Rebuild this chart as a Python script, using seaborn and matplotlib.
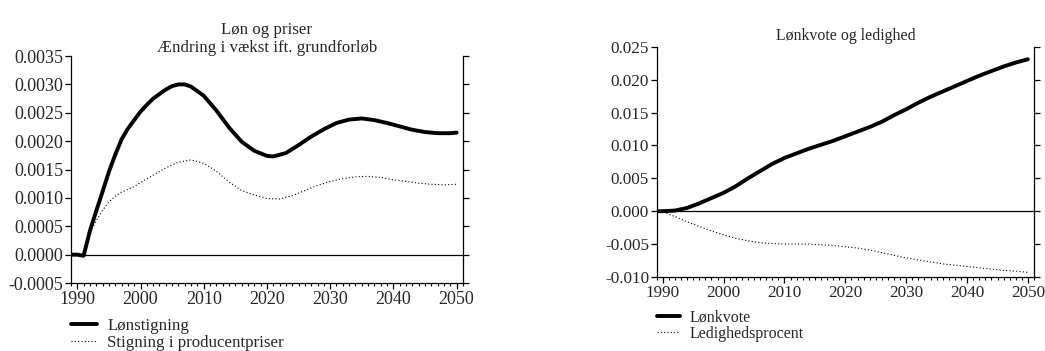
import matplotlib
matplotlib.use("Agg")
import matplotlib.pyplot as plt
import seaborn as sns
from matplotlib.ticker import MultipleLocator

# venstre panel: Løn og priser
loen_aar = [1989, 1990, 1991, 1992, 1993, 1994, 1995, 1996, 1997, 1998, 1999, 2000,
            2001, 2002, 2003, 2004, 2005, 2006, 2007, 2008, 2010, 2012, 2014, 2016,
            2018, 2020, 2021, 2023, 2025, 2027, 2029, 2031, 2033, 2035, 2037, 2039,
            2041, 2043, 2045, 2047, 2049, 2050]
loenstigning = [0.0, 0.0, -0.00002, 0.00042, 0.00077, 0.00111, 0.00146, 0.00176,
                0.00203, 0.00222, 0.00237, 0.00252, 0.00264, 0.00275, 0.00283,
                0.00291, 0.00297, 0.00300, 0.00300, 0.00296, 0.00280, 0.00254,
                0.00224, 0.00199, 0.00183, 0.00174, 0.00173, 0.00179, 0.00193,
                0.00208, 0.00221, 0.00232, 0.00238, 0.00240, 0.00237, 0.00232,
                0.00226, 0.00220, 0.00216, 0.00214, 0.00214, 0.00215]

pris_aar = [1989, 1990, 1991, 1992, 1993, 1994, 1995, 1996, 1997, 1998, 1999, 2000,
            2002, 2004, 2006, 2008, 2010, 2012, 2014, 2016, 2018, 2020, 2022, 2024,
            2026, 2028, 2030, 2032, 2034, 2036, 2038, 2040, 2042, 2044, 2046, 2048,
            2050]
producentpriser = [0.0, 0.0, 0.0, 0.00038, 0.00060, 0.00078, 0.00093, 0.00103,
                   0.00110, 0.00115, 0.00120, 0.00127, 0.00140, 0.00153, 0.00163,
                   0.00167, 0.00161, 0.00147, 0.00128, 0.00113, 0.00105, 0.00099,
                   0.00098, 0.00104, 0.00113, 0.00122, 0.00129, 0.00134, 0.00137,
                   0.00138, 0.00136, 0.00132, 0.00129, 0.00126, 0.00124, 0.00123,
                   0.00124]

# højre panel: Lønkvote og ledighed
kvote_aar = [1989, 1990, 1992, 1994, 1996, 1998, 2000, 2002, 2004, 2006, 2008, 2010,
             2012, 2014, 2016, 2018, 2020, 2022, 2024, 2026, 2028, 2030, 2032, 2034,
             2036, 2038, 2040, 2042, 2044, 2046, 2048, 2050]
loenkvote = [0.0, 0.0, 0.0001, 0.0005, 0.0012, 0.0020, 0.0028, 0.0038, 0.0050,
             0.0061, 0.0072, 0.0081, 0.0088, 0.0095, 0.0101, 0.0107, 0.0114, 0.0121,
             0.0128, 0.0136, 0.0146, 0.0155, 0.0165, 0.0174, 0.0182, 0.0190, 0.0198,
             0.0206, 0.0213, 0.0220, 0.0226, 0.0231]
ledighed = [0.0, -0.0001, -0.0008, -0.0016, -0.0023, -0.0030, -0.0036, -0.0041,
            -0.0045, -0.0048, -0.0049, -0.0050, -0.0050, -0.0050, -0.0051, -0.0052,
            -0.0054, -0.0056, -0.0059, -0.0063, -0.0067, -0.0071, -0.0074, -0.0077,
            -0.0080, -0.0082, -0.0084, -0.0086, -0.0088, -0.0090, -0.0091, -0.0093]

venstre_yticks = [-0.0005, 0.0, 0.0005, 0.0010, 0.0015, 0.0020, 0.0025, 0.0030, 0.0035]
hoejre_yticks = [-0.010, -0.005, 0.0, 0.005, 0.010, 0.015, 0.020, 0.025]

sns.set_style("ticks")
plt.rcParams["font.family"] = ["Liberation Serif", "DejaVu Serif"]
plt.rcParams["axes.linewidth"] = 0.9

fig = plt.figure(figsize=(10.45, 3.51), dpi=100)
ax1 = fig.add_axes([0.0679, 0.1937, 0.3751, 0.6467])
ax2 = fig.add_axes([0.6284, 0.2108, 0.3611, 0.6560])


def style_axes(ax, yticks, fmt, size):
    ax.axhline(0, color="black", lw=0.9, zorder=1)
    ax.set_xlim(1989, 2051)
    ax.set_ylim(yticks[0], yticks[-1])
    ax.set_yticks(yticks)
    ax.set_yticklabels([fmt.format(v) for v in yticks])
    ax.set_xticks(range(1990, 2051, 10))
    ax.xaxis.set_minor_locator(MultipleLocator(1))
    ax.spines["top"].set_visible(False)
    for s in ["left", "right", "bottom"]:
        ax.spines[s].set_color("black")
    ax.tick_params(axis="both", which="major", direction="out", length=4,
                   width=0.9, color="black", labelsize=size, pad=1.5)
    ax.tick_params(axis="x", which="minor", direction="out", length=2.5,
                   width=0.8, color="black")
    ax.tick_params(axis="y", right=True, labelright=False)
    ax.set_xlabel(None)
    ax.set_ylabel(None)


sns.lineplot(x=loen_aar, y=loenstigning, ax=ax1, color="black", lw=2.8,
             label="Lønstigning")
sns.lineplot(x=pris_aar, y=producentpriser, ax=ax1, color="black", lw=0.8,
             linestyle=(0, (1, 2)), label="Stigning i producentpriser")
style_axes(ax1, venstre_yticks, "{:.4f}", 13)
ax1.set_title("Løn og priser\nÆndring i vækst ift. grundforløb", fontsize=12.2,
              linespacing=1.2, pad=2)

sns.lineplot(x=kvote_aar, y=loenkvote, ax=ax2, color="black", lw=2.8,
             label="Lønkvote")
sns.lineplot(x=kvote_aar, y=ledighed, ax=ax2, color="black", lw=0.8,
             linestyle=(0, (1, 2)), label="Ledighedsprocent")
style_axes(ax2, hoejre_yticks, "{:.3f}", 12.3)
ax2.set_title("Lønkvote og ledighed", fontsize=11.4, pad=5)

ax1.legend(loc="upper left", bbox_to_anchor=(0.0679, 0.095),
           bbox_transform=fig.transFigure, frameon=False, fontsize=12.2,
           handlelength=1.55, handletextpad=0.58, labelspacing=0.1,
           borderpad=0, borderaxespad=0)
ax2.legend(loc="upper left", bbox_to_anchor=(0.6284, 0.119),
           bbox_transform=fig.transFigure, frameon=False, fontsize=11.5,
           handlelength=1.45, handletextpad=0.58, labelspacing=0.05,
           borderpad=0, borderaxespad=0)

fig.savefig("out.png", dpi=100)
